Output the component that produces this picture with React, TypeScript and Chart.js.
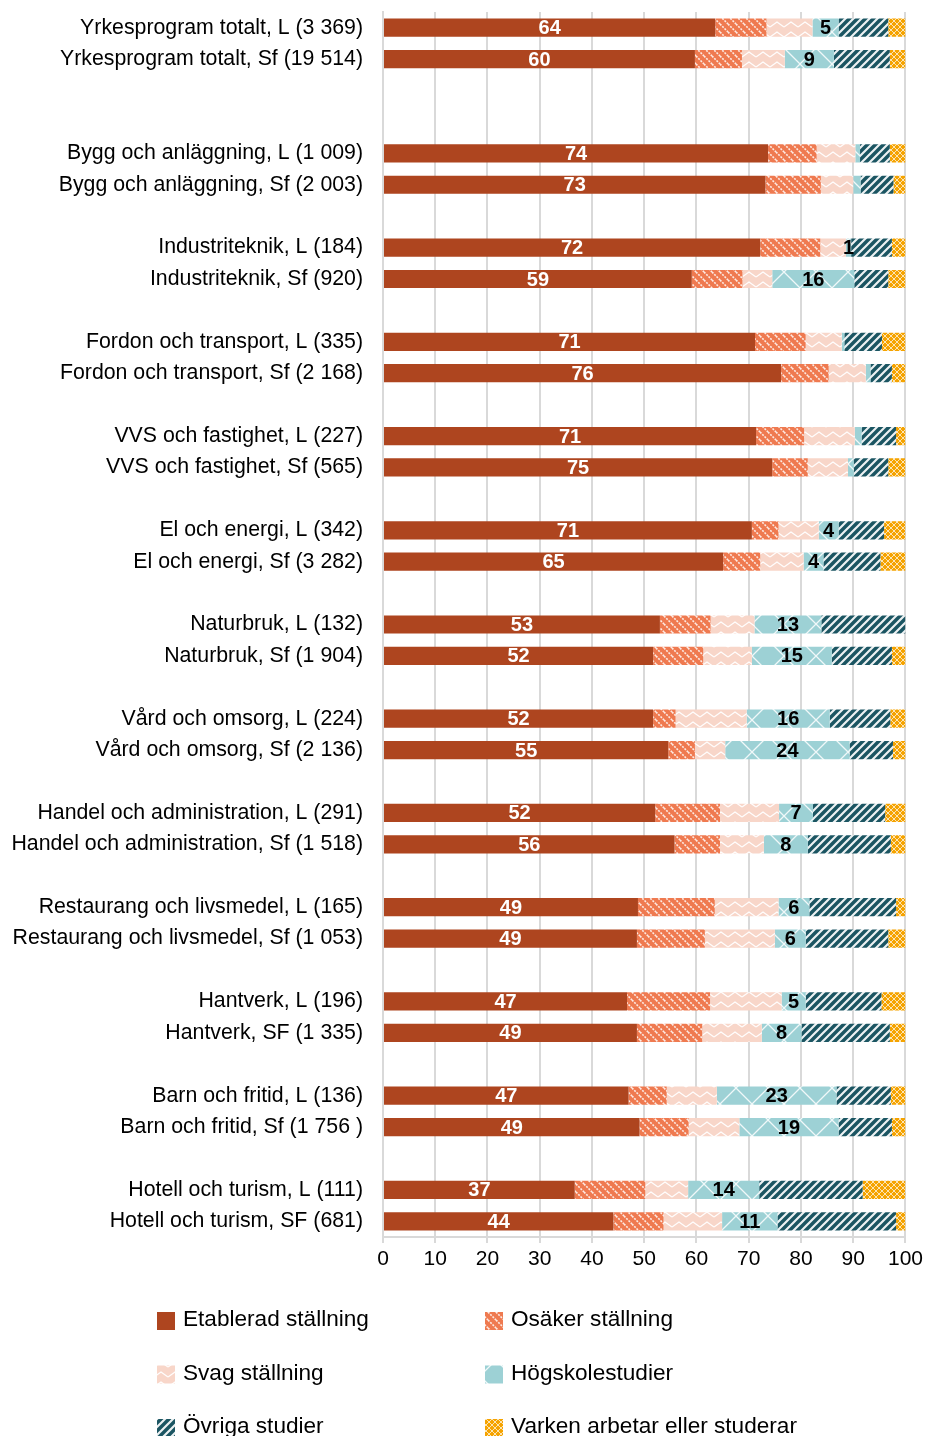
import React, { useEffect, useRef } from "react";
import { Chart, registerables } from "chart.js";

Chart.register(...registerables);

const categories: string[] = [
  "Yrkesprogram totalt, L (3 369)",
  "Yrkesprogram totalt, Sf (19 514)",
  "",
  "",
  "Bygg och anläggning, L (1 009)",
  "Bygg och anläggning, Sf (2 003)",
  "",
  "Industriteknik, L (184)",
  "Industriteknik, Sf (920)",
  "",
  "Fordon och transport, L (335)",
  "Fordon och transport, Sf (2 168)",
  "",
  "VVS och fastighet, L (227)",
  "VVS och fastighet, Sf (565)",
  "",
  "El och energi, L (342)",
  "El och energi, Sf (3 282)",
  "",
  "Naturbruk, L (132)",
  "Naturbruk, Sf (1 904)",
  "",
  "Vård och omsorg, L (224)",
  "Vård och omsorg, Sf (2 136)",
  "",
  "Handel och administration, L (291)",
  "Handel och administration, Sf (1 518)",
  "",
  "Restaurang och livsmedel, L (165)",
  "Restaurang och livsmedel, Sf (1 053)",
  "",
  "Hantverk, L (196)",
  "Hantverk, SF (1 335)",
  "",
  "Barn och fritid, L (136)",
  "Barn och fritid, Sf (1 756 )",
  "",
  "Hotell och turism, L (111)",
  "Hotell och turism, SF (681)",
];

const seriesNames: string[] = [
  "Etablerad ställning",
  "Osäker ställning",
  "Svag ställning",
  "Högskolestudier",
  "Övriga studier",
  "Varken arbetar eller studerar",
];

const N = null;
const etablerad = [63.6, 59.7, N, N, 73.7, 73.2, N, 72.2, 59.1, N, 71.2, 76.2, N, 71.4, 74.5, N, 70.6, 65.1, N, 53.0, 51.7, N, 51.7, 54.6, N, 52.1, 55.8, N, 48.8, 48.6, N, 46.7, 48.6, N, 47.0, 49.1, N, 36.7, 44.1];
const osaker = [9.8, 9.0, N, N, 9.3, 10.6, N, 11.5, 9.7, N, 9.7, 9.1, N, 9.2, 6.8, N, 5.1, 7.1, N, 9.7, 9.6, N, 4.3, 5.1, N, 12.4, 8.7, N, 14.7, 13.0, N, 15.9, 12.5, N, 7.3, 9.4, N, 13.5, 9.6];
const svag = [8.8, 8.2, N, N, 7.4, 6.2, N, 4.9, 5.7, N, 6.9, 7.1, N, 9.7, 7.7, N, 7.7, 8.3, N, 8.4, 9.3, N, 13.6, 5.8, N, 11.3, 8.4, N, 12.2, 13.4, N, 13.7, 11.4, N, 9.6, 9.7, N, 8.2, 11.2];
const hogskola = [5.0, 9.4, N, N, 0.9, 1.4, N, 1.0, 15.7, N, 0.5, 0.9, N, 1.3, 1.1, N, 3.8, 3.8, N, 12.8, 15.3, N, 15.9, 23.8, N, 6.5, 8.4, N, 5.9, 5.9, N, 4.6, 7.6, N, 22.9, 19.0, N, 13.6, 10.6];
const ovriga = [9.5, 10.7, N, N, 5.7, 6.3, N, 7.8, 6.5, N, 7.2, 4.1, N, 6.6, 6.6, N, 8.7, 10.9, N, 16.1, 11.5, N, 11.6, 8.3, N, 13.8, 15.9, N, 16.6, 15.8, N, 14.5, 16.9, N, 10.4, 10.2, N, 19.8, 22.7];
const varken = [3.3, 3.0, N, N, 3.0, 2.3, N, 2.6, 3.3, N, 4.5, 2.6, N, 1.8, 3.3, N, 4.1, 4.8, N, 0.0, 2.6, N, 2.9, 2.4, N, 3.9, 2.8, N, 1.8, 3.3, N, 4.6, 3.0, N, 2.8, 2.6, N, 8.2, 1.8];

// Labels shown on the Högskolestudier segments ("" = no label)
const hogskolaLabels = ["5", "9", "", "", "", "", "", "1", "16", "", "", "", "", "", "", "", "4", "4", "", "13", "15", "", "16", "24", "", "7", "8", "", "6", "6", "", "5", "8", "", "23", "19", "", "14", "11"];

const FONT = "'Liberation Sans', Arial, Helvetica, sans-serif";
const GRID = "#d9d9d9";

type Drawer = (g: CanvasRenderingContext2D, w: number, h: number) => void;

function makePattern(ctx: CanvasRenderingContext2D, w: number, h: number, bg: string, draw: Drawer): CanvasPattern | string {
  const c = document.createElement("canvas");
  c.width = w;
  c.height = h;
  const g = c.getContext("2d");
  if (!g) return bg;
  g.fillStyle = bg;
  g.fillRect(0, 0, w, h);
  draw(g, w, h);
  return ctx.createPattern(c, "repeat") || bg;
}

function buildFills(ctx: CanvasRenderingContext2D) {
  const solid = "#AE451F";
  const osak = makePattern(ctx, 8, 8, "#EF7A50", (g) => {
    g.strokeStyle = "rgba(255,255,255,0.85)";
    g.lineWidth = 1.6;
    g.setLineDash([2, 1.2]);
    g.beginPath();
    g.moveTo(-8, 0); g.lineTo(8, 16);
    g.moveTo(0, 0); g.lineTo(8, 8);
    g.moveTo(0, -8); g.lineTo(16, 8);
    g.stroke();
  });
  const sv = makePattern(ctx, 14, 10, "#F8D6C9", (g) => {
    g.strokeStyle = "rgba(255,255,255,0.95)";
    g.lineWidth = 1.4;
    g.beginPath();
    g.moveTo(0, 7); g.lineTo(7, 2); g.lineTo(14, 7);
    g.stroke();
  });
  const hog = makePattern(ctx, 32, 32, "#9DD1D5", (g) => {
    g.strokeStyle = "rgba(255,255,255,0.85)";
    g.lineWidth = 1.3;
    g.beginPath();
    g.moveTo(0, 0); g.lineTo(32, 32);
    g.moveTo(32, 0); g.lineTo(0, 32);
    g.stroke();
  });
  const ovr = makePattern(ctx, 8, 8, "#1B5562", (g) => {
    g.strokeStyle = "rgba(255,255,255,0.92)";
    g.lineWidth = 2.2;
    g.beginPath();
    g.moveTo(-8, 8); g.lineTo(8, -8);
    g.moveTo(0, 8); g.lineTo(8, 0);
    g.moveTo(0, 16); g.lineTo(16, 0);
    g.stroke();
  });
  const vark = makePattern(ctx, 6, 6, "#F5A300", (g) => {
    g.strokeStyle = "rgba(255,255,255,0.7)";
    g.lineWidth = 1;
    g.beginPath();
    g.moveTo(0, 3); g.lineTo(3, 0); g.lineTo(6, 3); g.lineTo(3, 6); g.closePath();
    g.stroke();
  });
  return [solid, osak, sv, hog, ovr, vark];
}

const valueLabelPlugin = {
  id: "valueLabels",
  afterDatasetsDraw(chart: any) {
    const ctx: CanvasRenderingContext2D = chart.ctx;
    ctx.save();
    ctx.font = `bold 20px ${FONT}`;
    ctx.textAlign = "center";
    ctx.textBaseline = "middle";
    const m0 = chart.getDatasetMeta(0);
    m0.data.forEach((el: any, i: number) => {
      const v = etablerad[i];
      if (v == null) return;
      ctx.fillStyle = "#ffffff";
      ctx.fillText(String(Math.round(v)), (el.x + el.base) / 2, el.y + 1);
    });
    const m3 = chart.getDatasetMeta(3);
    m3.data.forEach((el: any, i: number) => {
      const t = hogskolaLabels[i];
      if (!t) return;
      ctx.fillStyle = "#000000";
      ctx.fillText(t, (el.x + el.base) / 2, el.y + 1);
    });
    ctx.restore();
  },
};

const legendPlugin = {
  id: "gridLegend",
  afterDraw(chart: any) {
    const ctx: CanvasRenderingContext2D = chart.ctx;
    ctx.save();
    ctx.font = `22.6px ${FONT}`;
    ctx.textAlign = "left";
    ctx.textBaseline = "alphabetic";
    const colX = [157, 485];
    chart.data.datasets.forEach((ds: any, i: number) => {
      const col = i % 2;
      const row = Math.floor(i / 2);
      const base = 1326 + row * 53.5;
      const x = colX[col];
      ctx.fillStyle = ds.backgroundColor;
      ctx.fillRect(x, base - 14, 18, 18);
      ctx.fillStyle = "#000000";
      ctx.fillText(ds.label, x + 26, base);
    });
    ctx.restore();
  },
};

export default function App() {
  const ref = useRef<HTMLCanvasElement | null>(null);

  useEffect(() => {
    const prevMargin = document.body.style.margin;
    const prevOverflow = document.documentElement.style.overflow;
    document.body.style.margin = "0";
    document.documentElement.style.overflow = "hidden";

    const canvas = ref.current;
    if (!canvas) return;
    const ctx = canvas.getContext("2d");
    if (!ctx) return;
    const fills = buildFills(ctx);
    const seriesData = [etablerad, osaker, svag, hogskola, ovriga, varken];

    const chart = new Chart(canvas, {
      type: "bar",
      data: {
        labels: categories,
        datasets: seriesData.map((d, i) => ({
          label: seriesNames[i],
          data: d as any,
          backgroundColor: fills[i] as any,
          borderWidth: 0,
          barPercentage: 0.58,
          categoryPercentage: 1,
        })),
      },
      options: {
        indexAxis: "y",
        responsive: false,
        animation: false,
        devicePixelRatio: 1,
        layout: { padding: { top: 12, left: 0, right: 20, bottom: 163 } },
        plugins: {
          legend: { display: false },
          tooltip: { enabled: false },
          title: { display: false },
        },
        scales: {
          x: {
            stacked: true,
            min: 0,
            max: 100,
            ticks: {
              stepSize: 10,
              padding: 4,
              color: "#000000",
              font: { family: FONT, size: 21 },
            },
            grid: { color: GRID, lineWidth: 2, tickLength: 6, drawTicks: true },
            border: { display: true, color: GRID, width: 2 },
            afterFit: (scale: any) => {
              scale.height = 36;
            },
          },
          y: {
            stacked: true,
            ticks: {
              autoSkip: false,
              padding: 20,
              color: "#000000",
              font: { family: FONT, size: 21.3 },
            },
            grid: { display: false, drawTicks: false },
            border: { display: true, color: GRID, width: 2 },
            afterFit: (scale: any) => {
              scale.width = 383;
              scale.paddingTop = 0;
              scale.paddingBottom = 0;
            },
          },
        },
      },
      plugins: [valueLabelPlugin, legendPlugin],
    });

    return () => {
      chart.destroy();
      document.body.style.margin = prevMargin;
      document.documentElement.style.overflow = prevOverflow;
    };
  }, []);

  return (
    <div style={{ width: 927, height: 1436 }}>
      <canvas ref={ref} width={927} height={1436} style={{ display: "block", width: 927, height: 1436 }} />
    </div>
  );
}
